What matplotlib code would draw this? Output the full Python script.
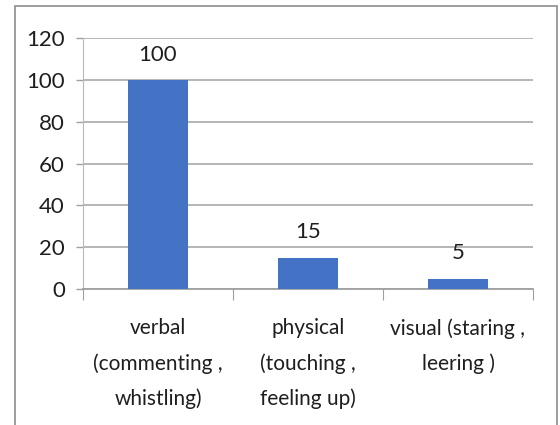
import matplotlib.pyplot as plt
from matplotlib.patches import Rectangle

categories = ['verbal\n(commenting ,\nwhistling)', 'physical\n(touching ,\nfeeling up)', 'visual (staring ,\nleering )']
values = [100, 15, 5]
yticks = [0, 20, 40, 60, 80, 100, 120]

plt.rcParams['font.family'] = ['Lato', 'DejaVu Sans']
txt = '#1e1e1e'
fs = 16

fig = plt.figure(figsize=(5.6, 4.25), dpi=100)
ax = fig.add_axes([83/560, 1 - 289/425, 450/560, 251/425])

# chart border
fig.patches.append(Rectangle((15/560, -0.1), 542/560, 1 - 6/425 + 0.1, transform=fig.transFigure,
                             fill=False, edgecolor='#8c8c8c', lw=1.2))

x = range(len(values))
bars = ax.bar(x, values, width=0.4, color='#4472C4', zorder=3)
for xi, v in zip(x, values):
    ax.annotate(str(v), xy=(xi, v), xytext=(0, 11), textcoords='offset points',
                ha='center', va='bottom', fontsize=fs, color=txt)

ax.set_ylim(0, 120)
ax.set_xlim(-0.5, 2.5)
ax.set_yticks(yticks)
ax.tick_params(axis='y', labelsize=fs, colors=txt, length=5, width=1, color='#a0a0a0', pad=8)
ax.set_xticks([-0.5, 0.5, 1.5, 2.5], minor=False)
ax.set_xticklabels([])
ax.set_xticks(list(x), minor=True)
ax.set_xticklabels(categories, minor=True, fontsize=15, color=txt, linespacing=1.9)
ax.tick_params(axis='x', which='minor', length=0, pad=21)
ax.tick_params(axis='x', which='major', length=8, color='#a0a0a0', direction='out')
ax.yaxis.grid(True, color='#b0b0b0', lw=1.3, zorder=0)
for s in ['top', 'right']:
    ax.spines[s].set_visible(False)
ax.spines['left'].set_color('#b8b8b8')
ax.spines['bottom'].set_color('#a0a0a0')
ax.spines['bottom'].set_linewidth(1.3)

fig.savefig('out.png', dpi=100)
